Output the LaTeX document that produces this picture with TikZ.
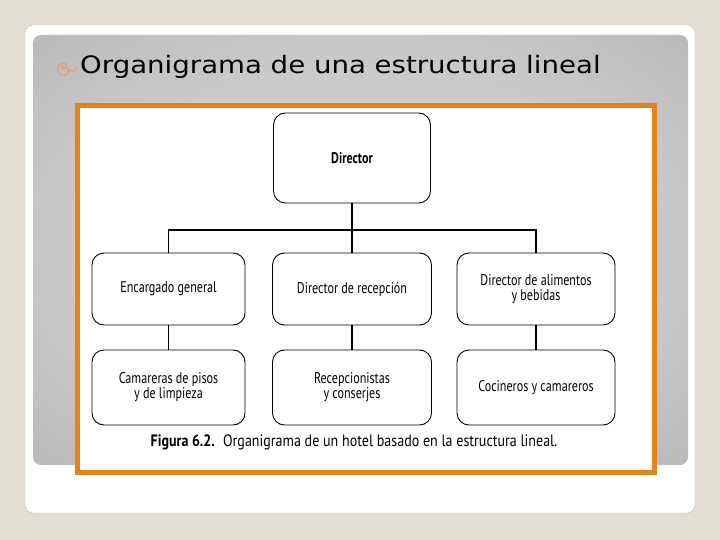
\documentclass[tikz,border=0pt]{standalone}
\usepackage{fontspec}
\newfontfamily\titlefont[FakeStretch=1.15]{DejaVu Sans}
\newfontfamily\figfont[FakeStretch=0.78]{PT Sans}
\newfontfamily\capfont[FakeStretch=0.85]{PT Sans}
\definecolor{bg}{HTML}{E3DED4}
\definecolor{frameor}{HTML}{E8821C}
\definecolor{bulletor}{HTML}{EE9A50}
\pgfdeclareradialshading{panelshade}{\pgfpoint{0bp}{0bp}}{%
  color(0bp)=(black!17); color(22bp)=(black!21); color(40bp)=(black!29);
  color(55bp)=(black!36); color(75bp)=(black!40)}
\begin{document}
\begin{tikzpicture}[x=1pt,y=-1pt,
  box/.style={draw, line width=0.9pt, rounded corners=12pt, align=center,
    inner sep=2pt, font=\figfont\fontsize{15.5}{15}\selectfont},
  link/.style={line width=1.6pt},
  bul/.style={draw=bulletor, line width=1pt}]
\fill[bg] (0,0) rectangle (720,540);
\useasboundingbox (0,0) rectangle (720,540);
% card
\draw[gray!55, fill=white, rounded corners=8pt] (25,25) rectangle (695,513);
% gray panel
\shade[shading=panelshade, rounded corners=8pt] (33,35) rectangle (688,465);
% bullet
\draw[bul] (61,75) .. controls (56,72) and (56,65) .. (62,63) .. controls (66,62) and (68,66) .. (65,68) .. controls (62,70) and (60,67) .. (63,66);
\draw[bul] (61,75) .. controls (66,77) and (70,72) .. (68,69) .. controls (72,73) and (78,71) .. (76,66);
% title
\node[anchor=base west, inner sep=0pt, font=\titlefont\fontsize{24}{26}\selectfont] (title) at (80,74) {Organigrama de una estructura lineal};
% orange frame
\draw[frameor, line width=5pt, fill=white] (77.5,105.5) rectangle (654.5,472.5);
% boxes
\node[box, minimum width=157pt, minimum height=90pt, font=\figfont\bfseries\fontsize{15.5}{15}\selectfont] (dir) at (352,158) {Director};
\node[box, minimum width=153pt, minimum height=72pt] (ra) at (168.5,289) {Encargado general};
\node[box, minimum width=159pt, minimum height=72pt] (rb) at (352,289) {Director de recepción};
\node[box, minimum width=158pt, minimum height=72pt] (rc) at (536,289) {Director de alimentos\\y bebidas};
\node[box, minimum width=153pt, minimum height=75pt] (sa) at (168.5,387.5) {Camareras de pisos\\y de limpieza};
\node[box, minimum width=159pt, minimum height=75pt] (sb) at (352,387.5) {Recepcionistas\\y conserjes};
\node[box, minimum width=158pt, minimum height=75pt] (sc) at (536,387.5) {Cocineros y camareros};
% connectors
\coordinate (bus) at (0,230);
\draw[link] (dir.south) -- (rb.north);
\draw[link] (ra.north) |- (rc.north |- bus) -- (rc.north);
\draw[link] (ra.south) -- (sa.north);
\draw[link] (rb.south) -- (sb.north);
\draw[link] (rc.south) -- (sc.north);
% caption
\node[inner sep=0pt, anchor=base, font=\capfont\fontsize{16.5}{17}\selectfont] (cap) at (354,446) {\textbf{Figura 6.2.}\hspace{0.5em}Organigrama de un hotel basado en la estructura lineal.};
\end{tikzpicture}
\end{document}
